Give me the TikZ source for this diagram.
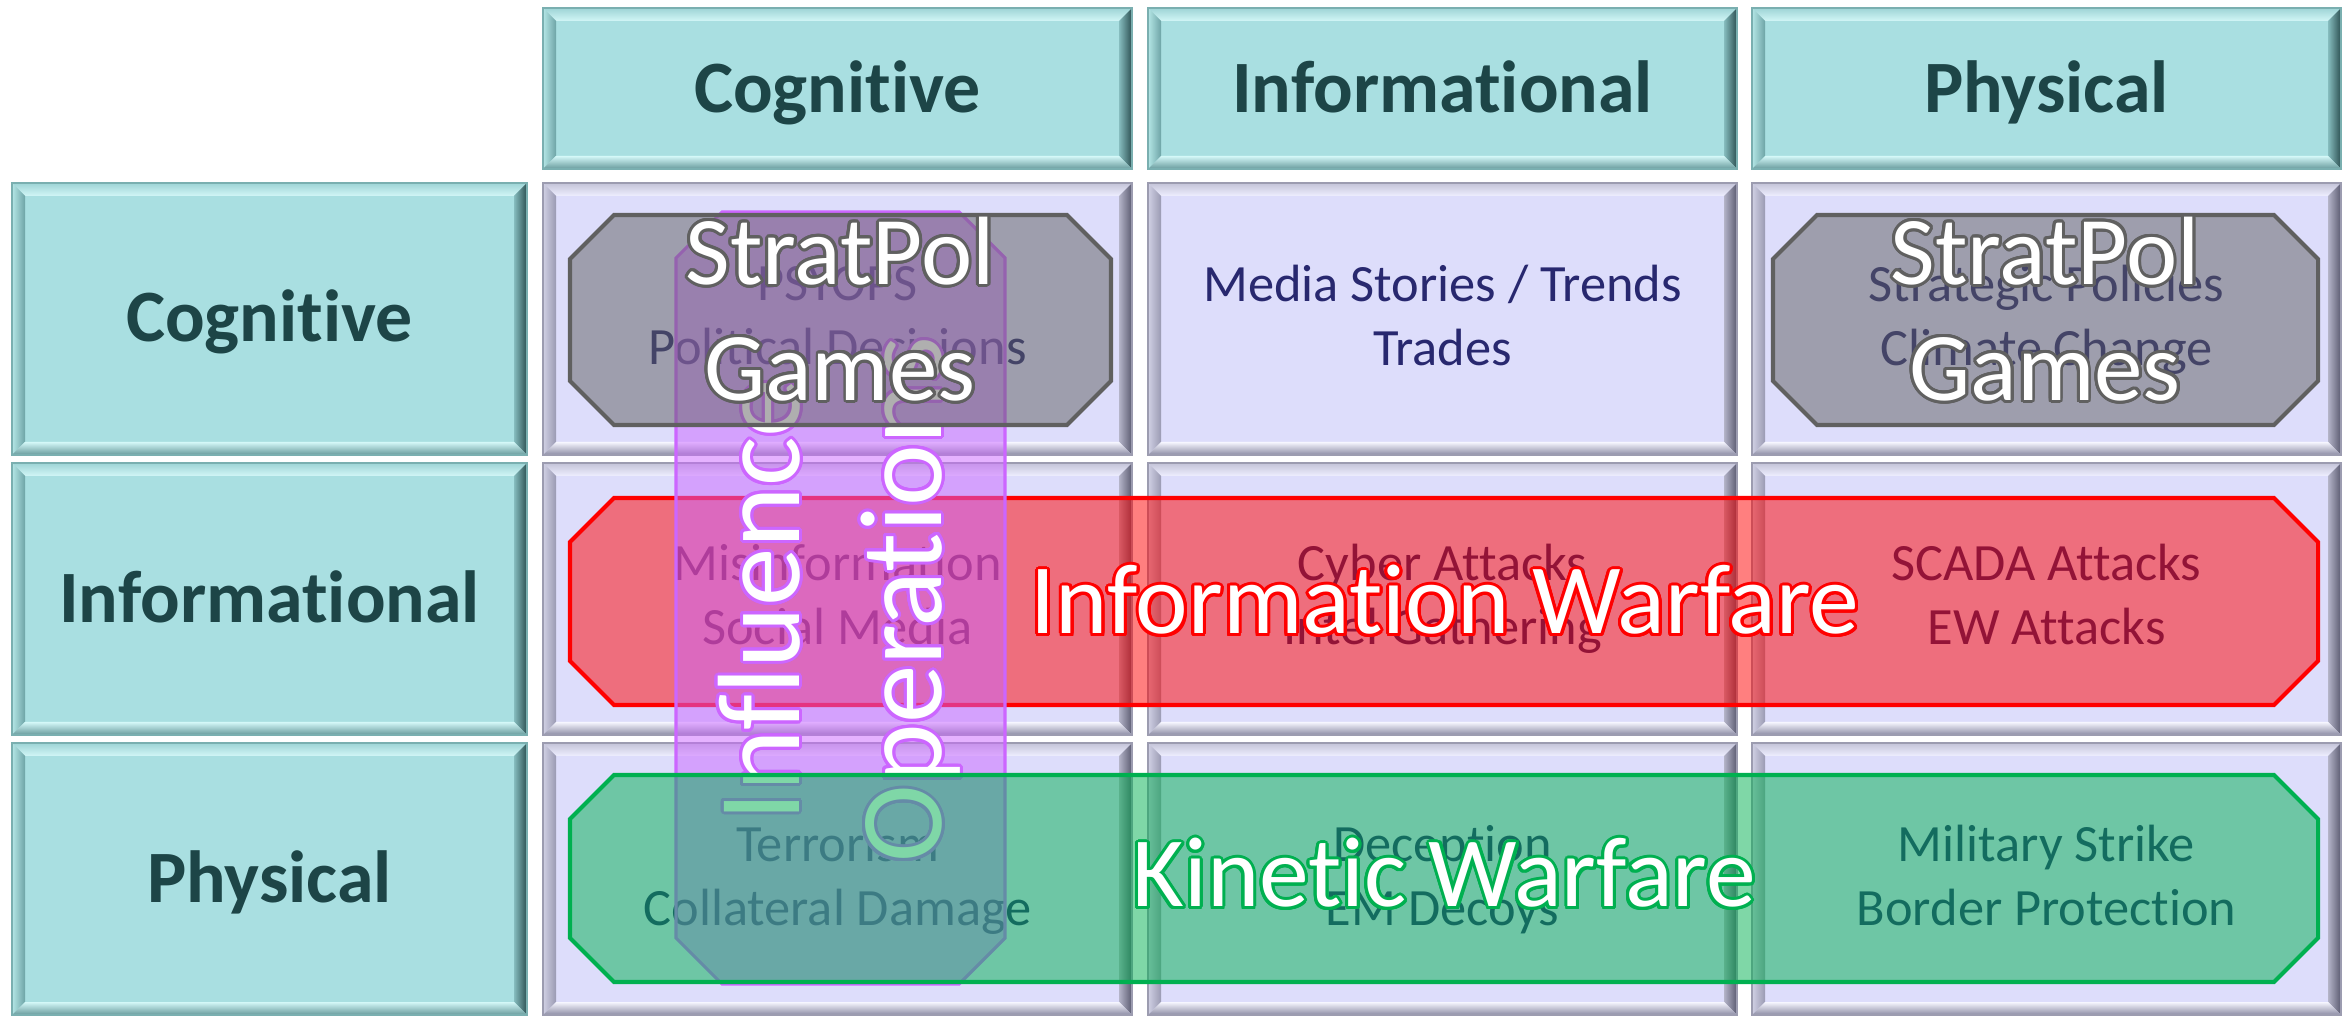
\documentclass[tikz,border=0pt]{standalone}
\usepackage{fontspec}
\setmainfont{Carlito}[Ligatures=NoCommon]
\usepackage[copies]{contour}
\usetikzlibrary{positioning}
\contourlength{0.85pt}
\contournumber{24}

% fills and texts
\definecolor{headfill}{HTML}{A9DFE1}
\definecolor{headink}{HTML}{1D4547}
\definecolor{datafill}{HTML}{DDDDFB}
\definecolor{dataink}{HTML}{28286F}
\definecolor{iwred}{HTML}{FF0000}
\definecolor{kwgreen}{HTML}{00B050}
\definecolor{iopurple}{HTML}{CC66FF}
\definecolor{spgray}{HTML}{606060}
% bevel colours (outer / inner)
\definecolor{headtopo}{HTML}{9ED4D6}   \definecolor{headtopi}{HTML}{D2F6F6}
\definecolor{headlefto}{HTML}{B4E6E6}  \definecolor{headlefti}{HTML}{6EA4A6}
\definecolor{headrighti}{HTML}{86BCBE} \definecolor{headrighto}{HTML}{2C5052}
\definecolor{headboti}{HTML}{D4F8F8}   \definecolor{headboto}{HTML}{679A9C}
\definecolor{headedge}{HTML}{7AAFB0}
\definecolor{datatopo}{HTML}{C4C4D8}   \definecolor{datatopi}{HTML}{EEEEFF}
\definecolor{datalefto}{HTML}{D0D0E4}  \definecolor{datalefti}{HTML}{9A9AB2}
\definecolor{datarighti}{HTML}{B4B4C8} \definecolor{datarighto}{HTML}{5A5A70}
\definecolor{databoti}{HTML}{F6F6FF}   \definecolor{databoto}{HTML}{8C8CA4}
\definecolor{dataedge}{HTML}{9C9CB0}

\tikzset{
    x=0.01cm, y=-0.01cm, % one unit is one pixel of the slide, y runs down
    headtext/.style={ % column and row titles
        text=headink, inner sep=0pt,
        font=\bfseries\fontsize{21}{25.6}\selectfont,
        execute at begin node=\strut
    },
    celltext/.style={ % entries of the grid
        text=dataink, inner sep=0pt, align=center,
        font=\fontsize{14.9}{18.2}\selectfont,
        execute at begin node=\strut, execute at end node=\strut
    },
    bigtext/.style={ % white labels of the overlays
        text=white, inner sep=0pt, align=center,
        font=\fontsize{27.6}{33}\selectfont,
        execute at begin node=\strut, execute at end node=\strut
    },
    bandtext/.style={
        bigtext, font=\fontsize{28.3}{34}\selectfont
    },
    iotext/.style={
        bigtext, font=\fontsize{33.3}{40.4}\selectfont
    },
    iwband/.style={fill=iwred, fill opacity=.5, draw=iwred, line width=1.15pt},
    kwband/.style={fill=kwgreen, fill opacity=.5, draw=kwgreen, line width=1.15pt},
    ioband/.style={fill=iopurple, fill opacity=.5, draw=iopurple, line width=.9pt},
    spband/.style={fill=spgray, fill opacity=.5, draw=spgray, line width=1.15pt}
}

% bevelled box: x1, y1, x2, y2, kind (head or data)
\newcommand{\bevelcell}[5]{%
    \fill[#5fill] (#1,#2) rectangle (#3,#4);
    \shade[top color=#5topo, bottom color=#5topi] (#1,#2) -- (#3,#2) -- ({#3-13},{#2+13}) -- ({#1+13},{#2+13}) -- cycle;
    \shade[left color=#5lefto, right color=#5lefti] (#1,#2) -- ({#1+13},{#2+13}) -- ({#1+13},{#4-13}) -- (#1,#4) -- cycle;
    \shade[left color=#5righti, right color=#5righto] (#3,#2) -- (#3,#4) -- ({#3-13},{#4-13}) -- ({#3-13},{#2+13}) -- cycle;
    \shade[top color=#5boti, bottom color=#5boto] (#1,#4) -- (#3,#4) -- ({#3-13},{#4-13}) -- ({#1+13},{#4-13}) -- cycle;
    \draw[#5edge, line width=.4pt] (#1,#2) rectangle (#3,#4);
}
% box with cut corners: x1, y1, x2, y2, cut, style
\newcommand{\cutbox}[6]{%
    \path[#6] ({#1+#5},#2) -- ({#3-#5},#2) -- (#3,{#2+#5}) -- (#3,{#4-#5}) -- ({#3-#5},#4) -- ({#1+#5},#4) -- (#1,{#4-#5}) -- (#1,{#2+#5}) -- cycle;
}

\begin{document}
\begin{tikzpicture}
    \useasboundingbox (0,0) rectangle (2351,1019);

    % column titles
    \foreach \x/\n/\t in {543/hcog/Cognitive, 1148/hinf/Informational, 1752/hphy/Physical}{
        \bevelcell{\x}{8}{\x+589}{169}{head}
        \node[headtext] (\n) at (\x+294.5,95) {\t};
    }
    % row titles
    \foreach \y/\n/\t in {183/rcog/Cognitive, 463/rinf/Informational, 743/rphy/Physical}{
        \bevelcell{12}{\y}{527}{\y+272}{head}
        \node[headtext] (\n) at (269.5,\y+141) {\t};
    }
    % grid
    \foreach \x in {543,1148,1752}
        \foreach \y in {183,463,743}
            {\bevelcell{\x}{\y}{\x+589}{\y+272}{data}}

    \node[celltext] (psyops) at (837.5,325) {PSYOPS\\Political Decisions};
    \node[celltext] (media) at (1442.5,325) {Media Stories / Trends\\Trades};
    \node[celltext] (policy) at (2046.5,325) {Strategic Policies\\Climate Change};
    \node[celltext] (misinfo) at (837.5,604) {Misinformation\\Social Media};
    \node[celltext] (cyber) at (1442.5,604) {Cyber Attacks\\Intel Gathering};
    \node[celltext] (scada) at (2046.5,604) {SCADA Attacks\\EW Attacks};
    \node[celltext] (terror) at (837.5,885) {Terrorism\\Collateral Damage};
    \node[celltext] (decoy) at (1442.5,885) {Deception\\EM Decoys};
    \node[celltext] (strike) at (2046.5,885) {Military Strike\\Border Protection};

    % overlays
    \cutbox{570}{498}{2318}{705}{44}{iwband}
    \node[bandtext] (infowar) at (1445,610) {\contour{iwred}{Information Warfare}};

    \cutbox{676}{212}{1005}{984}{46}{ioband}
    \node[iotext, rotate=90] (influence) at (851,600)
        {\contour{iopurple}{Influence}\\\contour{iopurple}{Operations}};

    \cutbox{570}{775}{2318}{982}{44}{kwband}
    \node[bandtext] (kinetic) at (1444,883) {\contour{kwgreen}{Kinetic Warfare}};

    \cutbox{570}{215}{1111}{425}{44}{spband}
    \node[bigtext] (stratleft) at (840,326) {\contour{spgray}{StratPol}\\\contour{spgray}{Games}};
    \cutbox{1773}{215}{2318}{425}{44}{spband}
    \node[bigtext] (stratright) at (2045,326) {\contour{spgray}{StratPol}\\\contour{spgray}{Games}};
\end{tikzpicture}
\end{document}
